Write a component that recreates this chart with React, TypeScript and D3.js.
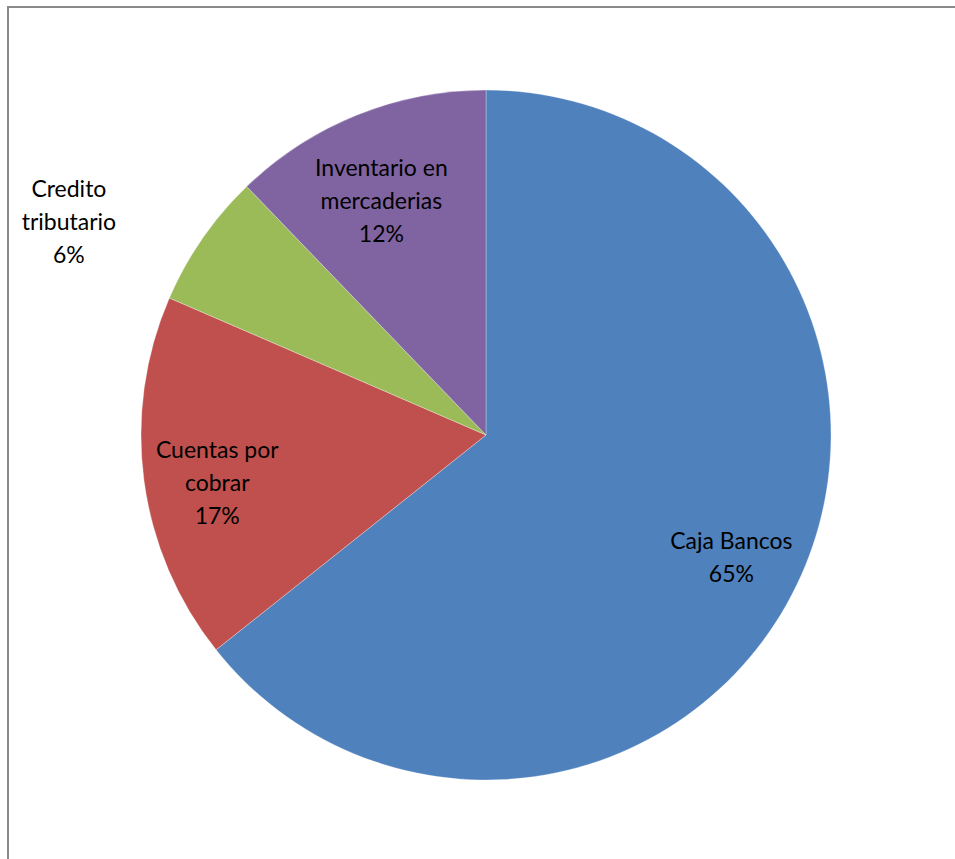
import React from "react";
import * as d3 from "d3";

const categories = ["Caja Bancos", "Cuentas por cobrar", "Credito tributario", "Inventario en mercaderias"];
const values = [64.3, 17.2, 6.3, 12.2];
const percentLabels = ["65%", "17%", "6%", "12%"];
const labelLines = [["Caja Bancos"], ["Cuentas por", "cobrar"], ["Credito", "tributario"], ["Inventario en", "mercaderias"]];

const colors = ["#4F81BD", "#C0504D", "#9BBB59", "#8064A2"];

const W = 955;
const H = 859;
const cx = 486;
const cy = 435;
const R = 345;
const labelK = 0.78;
const nudges: [number, number][] = [
  [3, 6],
  [-2, 12.5],
  [-196, -60],
  [-4, 15.6],
];
const lineH = 33;
const capH = 16;
const FONT = "Lato, 'Open Sans', sans-serif";

export default function App() {
  const pie = d3.pie<number>().sort(null).value((d) => d)(values);
  const arc = d3.arc<d3.PieArcDatum<number>>().innerRadius(0).outerRadius(R);

  return (
    <svg width={W} height={H} style={{ position: "absolute", left: 0, top: 0, display: "block" }}>
      <rect x={0} y={0} width={W} height={H} fill="#fff" />
      <line x1={7} y1={7} x2={W} y2={7} stroke="#8a8a8a" strokeWidth={2} />
      <line x1={8} y1={6} x2={8} y2={H} stroke="#8a8a8a" strokeWidth={2} />
      <g transform={`translate(${cx},${cy})`}>
        {pie.map((p, i) => (
          <path key={categories[i]} d={arc(p) || ""} fill={colors[i]} stroke="#fff" strokeWidth={0.3} />
        ))}
        {pie.map((p, i) => {
          const mid = (p.startAngle + p.endAngle) / 2;
          const x = R * labelK * Math.sin(mid) + nudges[i][0];
          const y = -R * labelK * Math.cos(mid) + nudges[i][1];
          const lines = [...labelLines[i], percentLabels[i]];
          const y0 = y - ((lines.length - 1) * lineH) / 2 + capH / 2;
          return (
            <text key={"l" + i} textAnchor="middle" fontFamily={FONT} fontSize={23} fill="#000">
              {lines.map((t, j) => (
                <tspan key={j} x={x} y={y0 + j * lineH}>
                  {t}
                </tspan>
              ))}
            </text>
          );
        })}
      </g>
    </svg>
  );
}
